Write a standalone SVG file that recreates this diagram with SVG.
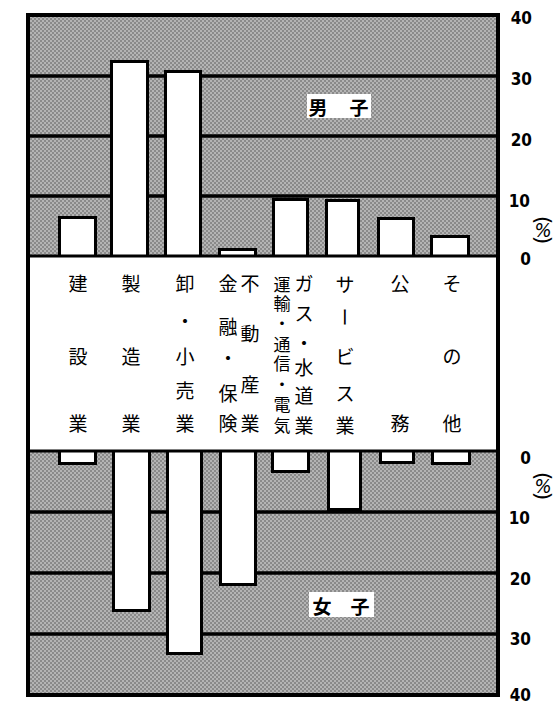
<svg xmlns="http://www.w3.org/2000/svg" width="554" height="703" viewBox="0 0 554 703">
<defs>
<pattern id="dither" width="4" height="4" patternUnits="userSpaceOnUse">
<rect width="4" height="4" fill="#b4b4b4"/>
<rect width="2" height="2" fill="#8a8a8a"/>
<rect x="2" y="2" width="2" height="2" fill="#8a8a8a"/>
</pattern>
</defs>
<style>
.bar{fill:#fff;stroke:#000;stroke-width:3;stroke-linejoin:miter}
.grid{stroke:#000;stroke-width:3.5}
.lbl{font-family:"Noto Sans CJK JP","Noto Sans CJK SC",sans-serif;font-size:19px;fill:#000;text-anchor:middle;dominant-baseline:central}
.sm{font-size:17px}
.num{font-family:"DejaVu Sans Condensed","Liberation Sans Narrow","DejaVu Sans",sans-serif;font-size:17px;font-weight:bold;fill:#000;text-anchor:end}
.pct{font-family:"DejaVu Sans Condensed","DejaVu Sans",sans-serif;font-size:20px;font-style:italic;fill:#000;text-anchor:middle;dominant-baseline:central}
.par{font-family:"DejaVu Sans","Liberation Sans",sans-serif;font-size:22px;fill:#000;text-anchor:middle;dominant-baseline:central}
.tag{font-weight:bold}
</style>
<rect width="554" height="703" fill="#fff"/>
<g id="background">
<rect x="28" y="15" width="470" height="680" fill="url(#dither)"/>
</g>
<g id="gridlines">
<line class="grid" x1="28" y1="76" x2="498" y2="76"/>
<line class="grid" x1="28" y1="136" x2="498" y2="136"/>
<line class="grid" x1="28" y1="196" x2="498" y2="196"/>
<line class="grid" x1="28" y1="512" x2="498" y2="512"/>
<line class="grid" x1="28" y1="573" x2="498" y2="573"/>
<line class="grid" x1="28" y1="634" x2="498" y2="634"/>
</g>
<g id="bars">
<g id="bar-kensetsu">
<path class="bar" d="M59.5,256 V217.5 H95.5 V256"/>
<path class="bar" d="M59.5,451 V463.5 H95.5 V451"/>
</g>
<g id="bar-seizo">
<path class="bar" d="M111.5,256 V61.5 H147.5 V256"/>
<path class="bar" d="M113.5,451 V610.5 H149.5 V451"/>
</g>
<g id="bar-oroshi">
<path class="bar" d="M165.5,256 V71.5 H200.5 V256"/>
<path class="bar" d="M167.5,451 V653.5 H201.5 V451"/>
</g>
<g id="bar-kinyu">
<path class="bar" d="M219.5,256 V249.5 H255.5 V256"/>
<path class="bar" d="M220.5,451 V584.5 H255.5 V451"/>
</g>
<g id="bar-unyu">
<path class="bar" d="M273.5,256 V199.5 H307.5 V256"/>
<path class="bar" d="M272.5,451 V471.5 H308.5 V451"/>
</g>
<g id="bar-service">
<path class="bar" d="M326.5,256 V200.5 H358.5 V256"/>
<path class="bar" d="M328.5,451 V509.5 H360.5 V451"/>
</g>
<g id="bar-komu">
<path class="bar" d="M378.5,256 V218.5 H413.5 V256"/>
<path class="bar" d="M380.5,451 V462.5 H413.5 V451"/>
</g>
<g id="bar-sonota">
<path class="bar" d="M431.5,256 V236.5 H468.5 V256"/>
<path class="bar" d="M432.5,451 V463.5 H469.5 V451"/>
</g>
</g>
<g id="band">
<rect x="28" y="256" width="470" height="195" fill="#fff"/>
<line x1="28" y1="256" x2="500" y2="256" stroke="#000" stroke-width="3"/>
<line x1="28" y1="451" x2="498" y2="451" stroke="#000" stroke-width="3"/>
</g>
<g id="frame">
<rect x="28" y="15" width="470" height="680" fill="none" stroke="#000" stroke-width="4"/>
</g>
<g id="label-kensetsu" class="lbl">
<text x="78" y="282">建</text><text x="78" y="355">設</text><text x="78" y="422">業</text>
</g>
<g id="label-seizo" class="lbl">
<text x="131" y="282">製</text><text x="131" y="355">造</text><text x="131" y="422">業</text>
</g>
<g id="label-oroshi" class="lbl">
<text x="185" y="282">卸</text><text x="185" y="320">・</text><text x="185" y="355">小</text><text x="185" y="389">売</text><text x="185" y="422">業</text>
</g>
<g id="label-kinyu" class="lbl">
<text x="228" y="282">金</text><text x="228" y="325">融</text><text x="228" y="357">・</text><text x="228" y="392">保</text><text x="228" y="422">険</text>
</g>
<g id="label-fudosan" class="lbl">
<text x="250" y="282">不</text><text x="250" y="332">動</text><text x="250" y="383">産</text><text x="250" y="422">業</text>
</g>
<g id="label-unyu" class="lbl sm">
<text x="282" y="283">運</text><text x="282" y="302">輸</text><text x="282" y="322">・</text><text x="282" y="343">通</text><text x="282" y="362">信</text><text x="282" y="383">・</text><text x="282" y="403">電</text><text x="282" y="424">気</text>
</g>
<g id="label-gas" class="lbl">
<text x="304" y="282">ガ</text><text x="304" y="312">ス</text><text x="304" y="342">・</text><text x="304" y="366">水</text><text x="304" y="394">道</text><text x="304" y="424">業</text>
</g>
<g id="label-service" class="lbl">
<text x="345" y="283">サ</text><text x="345" y="317" transform="rotate(90 345 317)">ー</text><text x="345" y="355">ビ</text><text x="345" y="392">ス</text><text x="345" y="424">業</text>
</g>
<g id="label-komu" class="lbl">
<text x="400" y="282">公</text><text x="400" y="422">務</text>
</g>
<g id="label-sonota" class="lbl">
<text x="452" y="282">そ</text><text x="452" y="355">の</text><text x="452" y="422">他</text>
</g>
<g id="label-male">
<rect x="307" y="94" width="64" height="24" fill="#fff"/>
<g class="lbl tag"><text x="318" y="106">男</text><text x="359" y="106">子</text></g>
</g>
<g id="label-female">
<rect x="309" y="592" width="65" height="25" fill="#fff"/>
<g class="lbl tag"><text x="322" y="605">女</text><text x="360" y="605">子</text></g>
</g>
<g id="axis-male">
<text class="num" x="532" y="23.5">40</text>
<text class="num" x="532" y="84.5">30</text>
<text class="num" x="532" y="145.5">20</text>
<text class="num" x="530" y="206.5">10</text>
<text class="num" x="531" y="264.5">0</text>
<text class="par" x="543" y="220" transform="rotate(90 543 220)">(</text>
<text class="pct" x="543" y="230">%</text>
<text class="par" x="543" y="240" transform="rotate(90 543 240)">)</text>
</g>
<g id="axis-female">
<text class="num" x="531" y="463.5">0</text>
<text class="num" x="530" y="523.5">10</text>
<text class="num" x="531" y="584.5">20</text>
<text class="num" x="531" y="644.5">30</text>
<text class="num" x="531" y="701">40</text>
<text class="par" x="543" y="476" transform="rotate(90 543 476)">(</text>
<text class="pct" x="543" y="486">%</text>
<text class="par" x="543" y="496" transform="rotate(90 543 496)">)</text>
</g>
</svg>
